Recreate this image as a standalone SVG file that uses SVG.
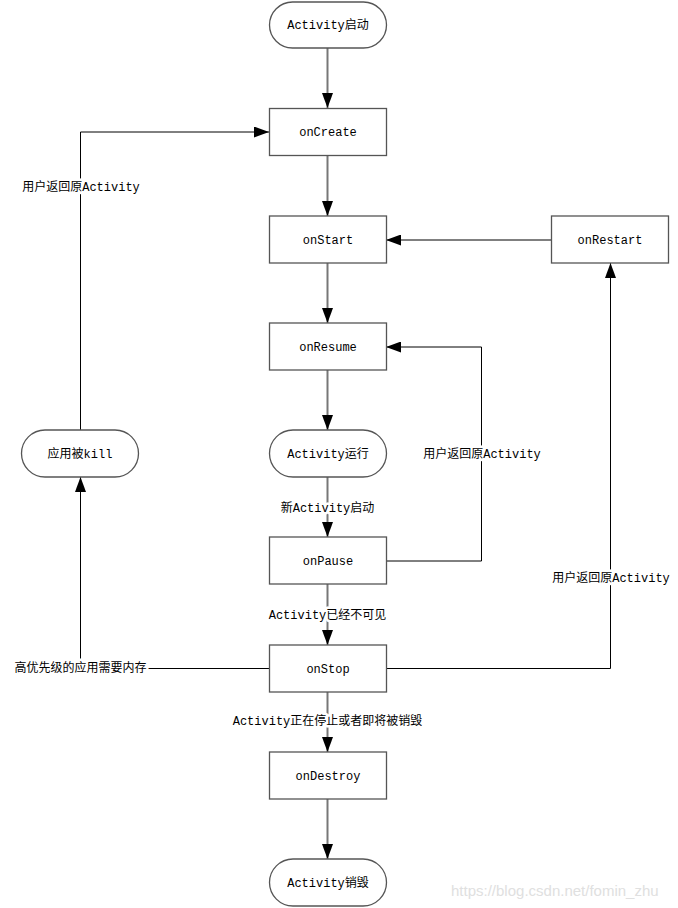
<svg xmlns="http://www.w3.org/2000/svg" width="678" height="908" viewBox="0 0 678 908">
<style>
.box{fill:#fff;stroke:#555;stroke-width:1.3}
.t{font-family:"Liberation Mono","Noto Sans CJK SC",monospace;font-size:12px;fill:#000;text-anchor:middle}
.lbl{paint-order:stroke;stroke:#fff;stroke-width:5px;stroke-linejoin:round}
.main{fill:none;stroke:#777;stroke-width:2}
.loop{fill:none;stroke:#000;stroke-width:1}
.wm{font-family:"Liberation Sans",Arial,sans-serif;font-size:15px;fill:#e0e0e0}
</style>
<defs>
<marker id="ah" markerUnits="userSpaceOnUse" markerWidth="15" markerHeight="11" refX="15" refY="5.5" orient="auto">
<path d="M0,0 L15,5.5 L0,11 z" fill="#000"/>
</marker>
</defs>
<rect width="678" height="908" fill="#fff"/>
<g id="connectors">
<line class="main" x1="327.5" y1="48" x2="327.5" y2="108" marker-end="url(#ah)"/>
<line class="main" x1="327.5" y1="156" x2="327.5" y2="216" marker-end="url(#ah)"/>
<line class="main" x1="327.5" y1="263" x2="327.5" y2="323" marker-end="url(#ah)"/>
<line class="main" x1="327.5" y1="370" x2="327.5" y2="430" marker-end="url(#ah)"/>
<line class="main" x1="327.5" y1="477" x2="327.5" y2="537" marker-end="url(#ah)"/>
<line class="main" x1="327.5" y1="584" x2="327.5" y2="645" marker-end="url(#ah)"/>
<line class="main" x1="327.5" y1="692" x2="327.5" y2="752" marker-end="url(#ah)"/>
<line class="main" x1="327.5" y1="799" x2="327.5" y2="859" marker-end="url(#ah)"/>
<polyline class="loop" points="80.5,430 80.5,132 269,132" marker-end="url(#ah)"/>
<line class="loop" x1="551" y1="240" x2="386" y2="240" marker-end="url(#ah)"/>
<polyline class="loop" points="386,561 481.5,561 481.5,347 386,347" marker-end="url(#ah)"/>
<polyline class="loop" points="386,668.5 610.5,668.5 610.5,263" marker-end="url(#ah)"/>
<polyline class="loop" points="269,668.5 80.5,668.5 80.5,477" marker-end="url(#ah)"/>
<text class="t lbl" x="81" y="191">用户返回原Activity</text>
<text class="t lbl" x="482" y="458">用户返回原Activity</text>
<text class="t lbl" x="611" y="582">用户返回原Activity</text>
<text class="t lbl" x="327.5" y="512">新Activity启动</text>
<text class="t lbl" x="327.5" y="619">Activity已经不可见</text>
<text class="t lbl" x="80.5" y="672">高优先级的应用需要内存</text>
<text class="t lbl" x="327.5" y="725">Activity正在停止或者即将被销毁</text>
</g>
<g id="start"><rect class="box" x="269.5" y="2" width="117" height="46" rx="23"/><text class="t" x="328" y="29">Activity启动</text></g>
<g id="onCreate"><rect class="box" x="269.5" y="108.5" width="117" height="47"/><text class="t" x="328" y="136">onCreate</text></g>
<g id="onStart"><rect class="box" x="269.5" y="216" width="117" height="47"/><text class="t" x="328" y="244">onStart</text></g>
<g id="onRestart"><rect class="box" x="551.5" y="216" width="117" height="47"/><text class="t" x="610" y="244">onRestart</text></g>
<g id="onResume"><rect class="box" x="269.5" y="323" width="117" height="47"/><text class="t" x="328" y="351">onResume</text></g>
<g id="running"><rect class="box" x="269.5" y="430" width="117" height="47" rx="23.5"/><text class="t" x="328" y="458">Activity运行</text></g>
<g id="killed"><rect class="box" x="21.5" y="430" width="117" height="47" rx="23.5"/><text class="t" x="80" y="458">应用被kill</text></g>
<g id="onPause"><rect class="box" x="269.5" y="537" width="117" height="47"/><text class="t" x="328" y="565">onPause</text></g>
<g id="onStop"><rect class="box" x="269.5" y="645" width="117" height="47"/><text class="t" x="328" y="673">onStop</text></g>
<g id="onDestroy"><rect class="box" x="269.5" y="752" width="117" height="47"/><text class="t" x="328" y="780">onDestroy</text></g>
<g id="destroyed"><rect class="box" x="269.5" y="859" width="117" height="47" rx="23.5"/><text class="t" x="328" y="887">Activity销毁</text></g>
<text class="wm" x="451" y="896">https://blog.csdn.net/fomin_zhu</text>
</svg>
